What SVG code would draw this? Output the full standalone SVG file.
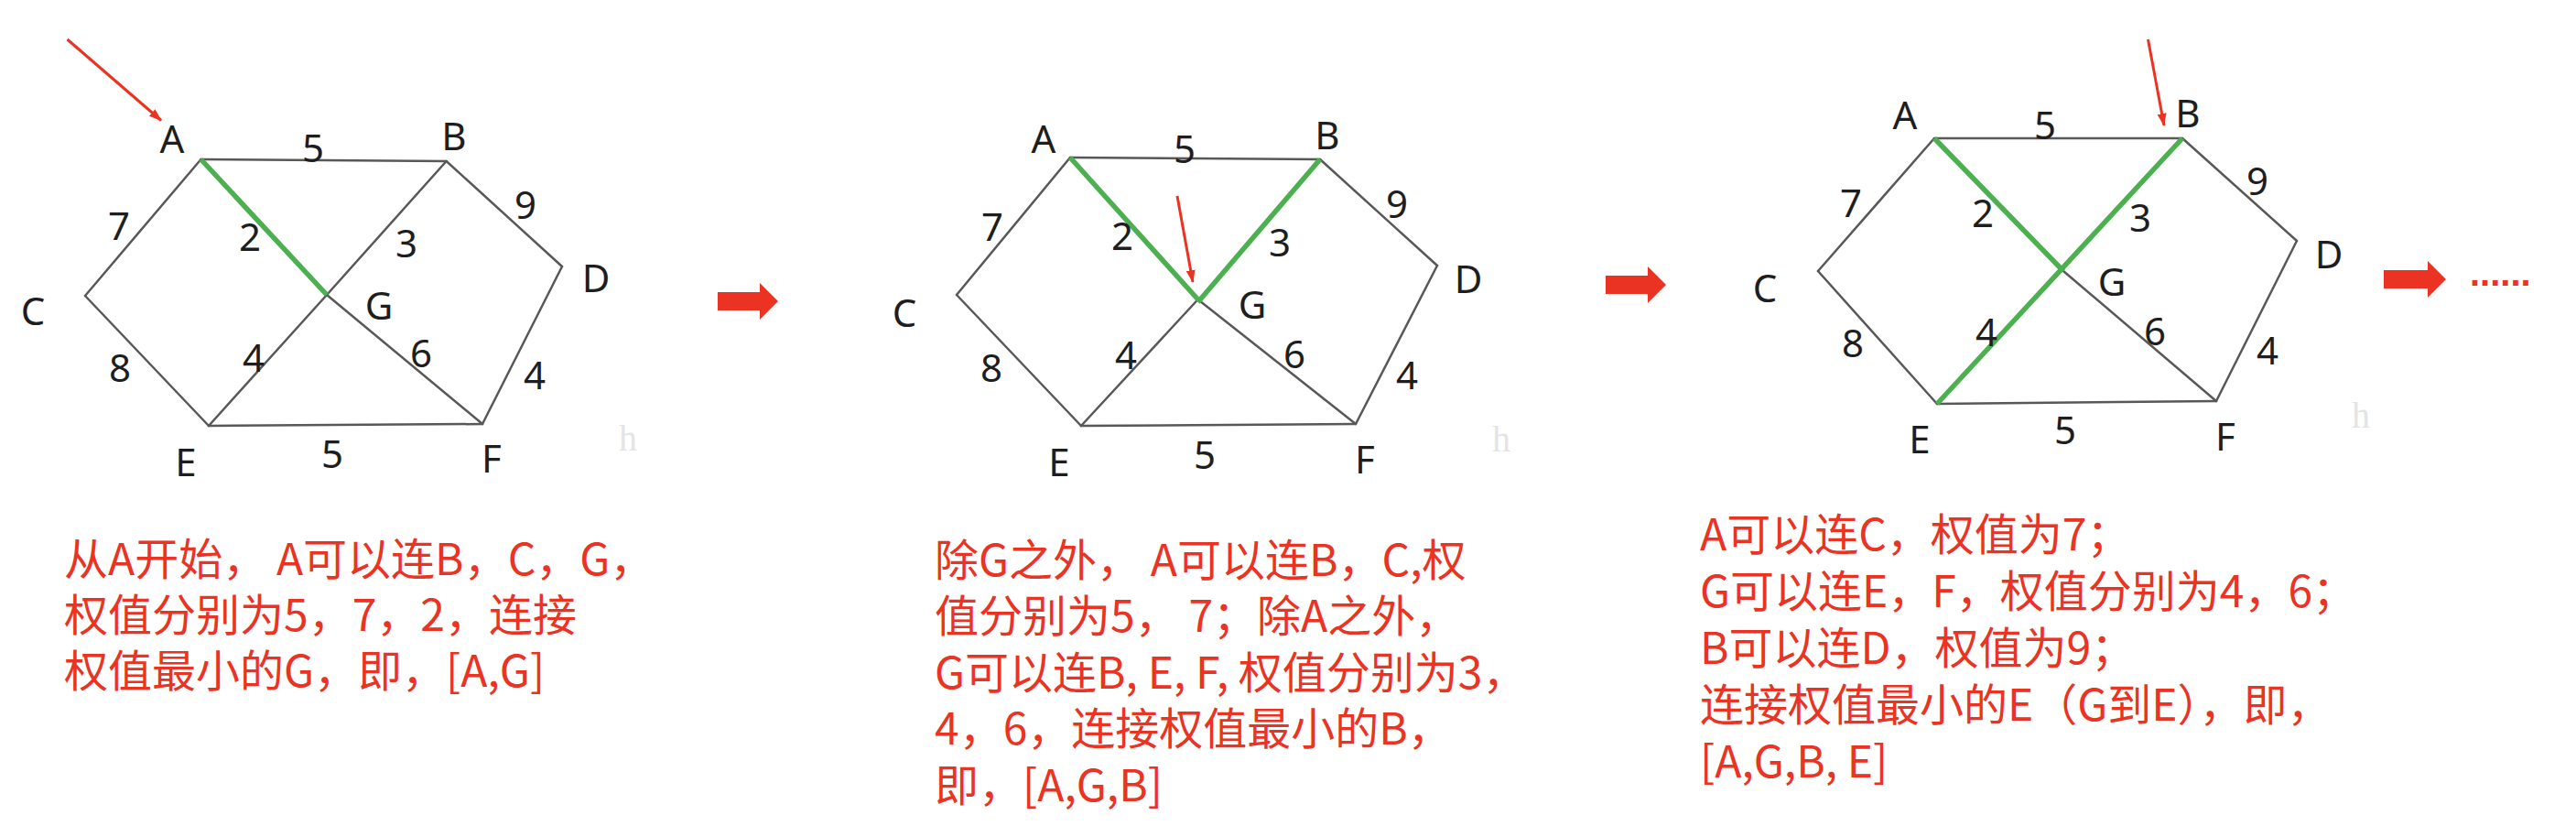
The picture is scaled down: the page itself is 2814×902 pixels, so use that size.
<svg xmlns="http://www.w3.org/2000/svg" width="2814" height="902" viewBox="0 0 2814 902">
<style>
.edge{stroke:#585858;stroke-width:2.5;fill:none;stroke-linecap:round}
.mst{stroke:#4caf50;stroke-width:5.5;fill:none;stroke-linecap:butt}
.lbl{font-family:'Noto Sans','DejaVu Sans',sans-serif;font-size:42px;fill:#1e1e1e;text-anchor:middle}
.note{font-family:'Noto Sans CJK SC','Noto Sans',sans-serif;font-size:48px;fill:#EA3323}
.ptr{stroke:#EA3323;stroke-width:3;fill:none;marker-end:url(#ah)}
.block{fill:#EA3323}
.wm{font-family:'Liberation Serif',serif;font-size:40px;fill:#e4e4e4;text-anchor:middle}
</style>
<defs>
<marker id="ah" markerUnits="userSpaceOnUse" markerWidth="14" markerHeight="10" refX="13" refY="5" orient="auto">
<path d="M0,0 L14,5 L0,10 z" fill="#EA3323"/>
</marker>
</defs>
<rect width="2814" height="902" fill="#ffffff"/>

<!-- Panel 1 -->
<g id="panel1">
<g id="p1-connectors">
<line class="edge" x1="219.5" y1="174" x2="487.6" y2="176"/>
<line class="edge" x1="219.5" y1="174" x2="93" y2="323"/>
<line class="edge" x1="487.6" y1="176" x2="357" y2="322"/>
<line class="edge" x1="487.6" y1="176" x2="614" y2="291"/>
<line class="edge" x1="93" y1="323" x2="228" y2="465"/>
<line class="edge" x1="357" y1="322" x2="228" y2="465"/>
<line class="edge" x1="357" y1="322" x2="527" y2="463"/>
<line class="edge" x1="614" y1="291" x2="527" y2="463"/>
<line class="edge" x1="228" y1="465" x2="527" y2="463"/>
<line class="mst" x1="219.5" y1="174" x2="357" y2="322"/>
<text class="lbl" x="342" y="177">5</text>
<text class="lbl" x="130" y="262">7</text>
<text class="lbl" x="273" y="274">2</text>
<text class="lbl" x="444" y="281">3</text>
<text class="lbl" x="574" y="239">9</text>
<text class="lbl" x="277" y="406">4</text>
<text class="lbl" x="460" y="401">6</text>
<text class="lbl" x="584" y="425">4</text>
<text class="lbl" x="131" y="417">8</text>
<text class="lbl" x="363" y="511">5</text>
<line class="ptr" x1="73.5" y1="43" x2="176" y2="131.5"/>
</g>
<g id="p1-A"><text class="lbl" x="188" y="167">A</text></g>
<g id="p1-B"><text class="lbl" x="496" y="164">B</text></g>
<g id="p1-C"><text class="lbl" x="36" y="355">C</text></g>
<g id="p1-D"><text class="lbl" x="651" y="319">D</text></g>
<g id="p1-G"><text class="lbl" x="414" y="349">G</text></g>
<g id="p1-E"><text class="lbl" x="203" y="520">E</text></g>
<g id="p1-F"><text class="lbl" x="537" y="516">F</text></g>
<text class="wm" x="686" y="492">h</text>
<g id="p1-note">
<text class="note" x="70" y="628">从A开始， A可以连B，C，G，</text>
<text class="note" x="70" y="689">权值分别为5，7，2，连接</text>
<text class="note" x="70" y="750">权值最小的G，即，[A,G]</text>
</g>
</g>

<polygon id="step-arrow-1" class="block" points="784,319 830,319 830,309 850,329 830,349 830,339 784,339"/>

<!-- Panel 2 -->
<g id="panel2">
<g id="p2-connectors">
<line class="edge" x1="1169" y1="172" x2="1442" y2="174"/>
<line class="edge" x1="1169" y1="172" x2="1045" y2="322"/>
<line class="edge" x1="1442" y1="174" x2="1570" y2="290"/>
<line class="edge" x1="1045" y1="322" x2="1181" y2="465"/>
<line class="edge" x1="1308.6" y1="327" x2="1181" y2="465"/>
<line class="edge" x1="1308.6" y1="327" x2="1481" y2="463"/>
<line class="edge" x1="1570" y1="290" x2="1481" y2="463"/>
<line class="edge" x1="1181" y1="465" x2="1481" y2="463"/>
<line class="mst" x1="1169" y1="172" x2="1308.6" y2="327"/>
<line class="mst" x1="1442" y1="174" x2="1308.6" y2="330"/>
<text class="lbl" x="1294" y="178">5</text>
<text class="lbl" x="1084" y="263">7</text>
<text class="lbl" x="1226" y="273">2</text>
<text class="lbl" x="1398" y="280">3</text>
<text class="lbl" x="1526" y="238">9</text>
<text class="lbl" x="1230" y="403">4</text>
<text class="lbl" x="1414" y="402">6</text>
<text class="lbl" x="1537" y="425">4</text>
<text class="lbl" x="1083" y="417">8</text>
<text class="lbl" x="1316" y="512">5</text>
<line class="ptr" x1="1286" y1="214" x2="1303" y2="308"/>
</g>
<g id="p2-A"><text class="lbl" x="1140" y="167">A</text></g>
<g id="p2-B"><text class="lbl" x="1450" y="163">B</text></g>
<g id="p2-C"><text class="lbl" x="988" y="357">C</text></g>
<g id="p2-D"><text class="lbl" x="1604" y="320">D</text></g>
<g id="p2-G"><text class="lbl" x="1368" y="348">G</text></g>
<g id="p2-E"><text class="lbl" x="1157" y="520">E</text></g>
<g id="p2-F"><text class="lbl" x="1491" y="517">F</text></g>
<text class="wm" x="1640" y="493">h</text>
<g id="p2-note">
<text class="note" x="1021" y="629">除G之外， A可以连B，C,权</text>
<text class="note" x="1021" y="690">值分别为5， 7；除A之外，</text>
<text class="note" x="1021" y="752">G可以连B, E, F, 权值分别为3，</text>
<text class="note" x="1021" y="813">4，6，连接权值最小的B，</text>
<text class="note" x="1021" y="875">即，[A,G,B]</text>
</g>
</g>

<polygon id="step-arrow-2" class="block" points="1754,301 1800,301 1800,291 1820,311 1800,331 1800,321 1754,321"/>

<!-- Panel 3 -->
<g id="panel3">
<g id="p3-connectors">
<line class="edge" x1="2113" y1="151" x2="2384" y2="151"/>
<line class="edge" x1="2113" y1="151" x2="1986" y2="296"/>
<line class="edge" x1="2384" y1="151" x2="2509" y2="263"/>
<line class="edge" x1="1986" y1="296" x2="2116" y2="441"/>
<line class="edge" x1="2254" y1="296" x2="2421" y2="438"/>
<line class="edge" x1="2509" y1="263" x2="2421" y2="438"/>
<line class="edge" x1="2116" y1="441" x2="2421" y2="438"/>
<line class="mst" x1="2113" y1="151" x2="2254" y2="296"/>
<line class="mst" x1="2384" y1="151" x2="2116" y2="441"/>
<text class="lbl" x="2234" y="152">5</text>
<text class="lbl" x="2022" y="237">7</text>
<text class="lbl" x="2166" y="248">2</text>
<text class="lbl" x="2338" y="253">3</text>
<text class="lbl" x="2466" y="213">9</text>
<text class="lbl" x="2170" y="378">4</text>
<text class="lbl" x="2354" y="377">6</text>
<text class="lbl" x="2477" y="398">4</text>
<text class="lbl" x="2024" y="390">8</text>
<text class="lbl" x="2256" y="485">5</text>
<line class="ptr" x1="2346.5" y1="43" x2="2364" y2="137"/>
</g>
<g id="p3-A"><text class="lbl" x="2081" y="141">A</text></g>
<g id="p3-B"><text class="lbl" x="2390" y="139">B</text></g>
<g id="p3-C"><text class="lbl" x="1928" y="330">C</text></g>
<g id="p3-D"><text class="lbl" x="2544" y="293">D</text></g>
<g id="p3-G"><text class="lbl" x="2307" y="323">G</text></g>
<g id="p3-E"><text class="lbl" x="2097" y="495">E</text></g>
<g id="p3-F"><text class="lbl" x="2431" y="492">F</text></g>
<text class="wm" x="2579" y="467">h</text>
<g id="p3-note">
<text class="note" x="1857" y="601">A可以连C，权值为7；</text>
<text class="note" x="1857" y="663">G可以连E，F，权值分别为4，6；</text>
<text class="note" x="1857" y="725">B可以连D，权值为9；</text>
<text class="note" x="1857" y="787">连接权值最小的E（G到E），即，</text>
<text class="note" x="1857" y="849">[A,G,B, E]</text>
</g>
</g>

<polygon id="step-arrow-3" class="block" points="2604,295 2652,295 2652,285 2672,305 2652,325 2652,315 2604,315"/>
<text x="2698" y="312" style="font-family:'Liberation Sans',sans-serif;font-size:40px;font-weight:bold;fill:#EA3323">......</text>
</svg>
